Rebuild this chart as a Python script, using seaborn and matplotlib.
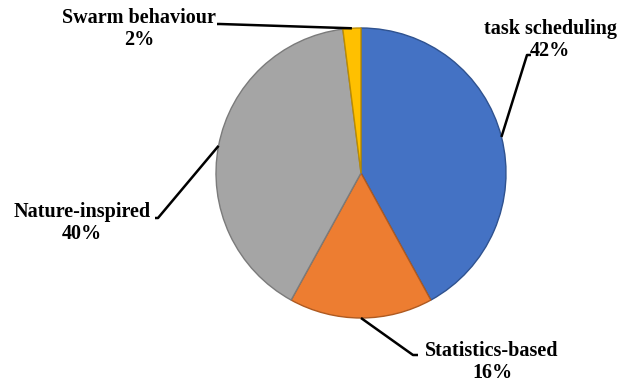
import numpy as np
import matplotlib
matplotlib.use("Agg")
import matplotlib.pyplot as plt
import seaborn as sns

# Share of surveyed approaches per category
categories = ["task scheduling", "Statistics-based", "Nature-inspired", "Swarm behaviour"]
shares = [42, 16, 40, 2]
colors = ["#4472C4", "#ED7D31", "#A5A5A5", "#FFC000"]
edge_colors = ["#2F528F", "#AE5A21", "#7B7B7B", "#BC8C00"]

# Label block placement (centre of two-line label) and leader elbow / tail, in pixel coords
label_pos = [(550, 40), (492, 362), (82, 223), (139, 29)]
leader_pts = [[(527, 55), (531, 55)],
              [(413, 355), (418, 355)],
              [(158, 218), (155, 218)],
              [(220, 24), (217, 24)]]

sns.set_theme(style="white")
plt.rcParams["font.family"] = ["Liberation Serif", "DejaVu Serif"]

W, H = 622, 386
fig = plt.figure(figsize=(W / 100, H / 100), dpi=100)
ax = fig.add_axes([0, 0, 1, 1])

cx, cy, r = 361, H - 173, 145
wedges, _ = ax.pie(shares, colors=colors, startangle=90, counterclock=False,
                   radius=r, center=(cx, cy), frame=True,
                   wedgeprops=dict(linewidth=1.0, edgecolor="#6a6a6a"))
for w, ec in zip(wedges, edge_colors):
    w.set_edgecolor(ec)
ax.set_xlim(0, W)
ax.set_ylim(0, H)
ax.set_aspect("equal")
ax.axis("off")

for w, cat, val, (lx, ly), pts in zip(wedges, categories, shares, label_pos, leader_pts):
    mid = np.deg2rad((w.theta1 + w.theta2) / 2)
    ex, ey = cx + r * np.cos(mid), cy + r * np.sin(mid)
    xs = [ex] + [p[0] for p in pts]
    ys = [ey] + [H - p[1] for p in pts]
    ax.plot(xs, ys, color="black", lw=1.8, solid_capstyle="butt")
    ax.text(lx, H - ly, f"{cat}\n{val}%", ha="center", va="center",
            fontsize=14.5, fontweight="bold", color="black", linespacing=1.12)

fig.savefig("out.png", dpi=100, facecolor="white")
